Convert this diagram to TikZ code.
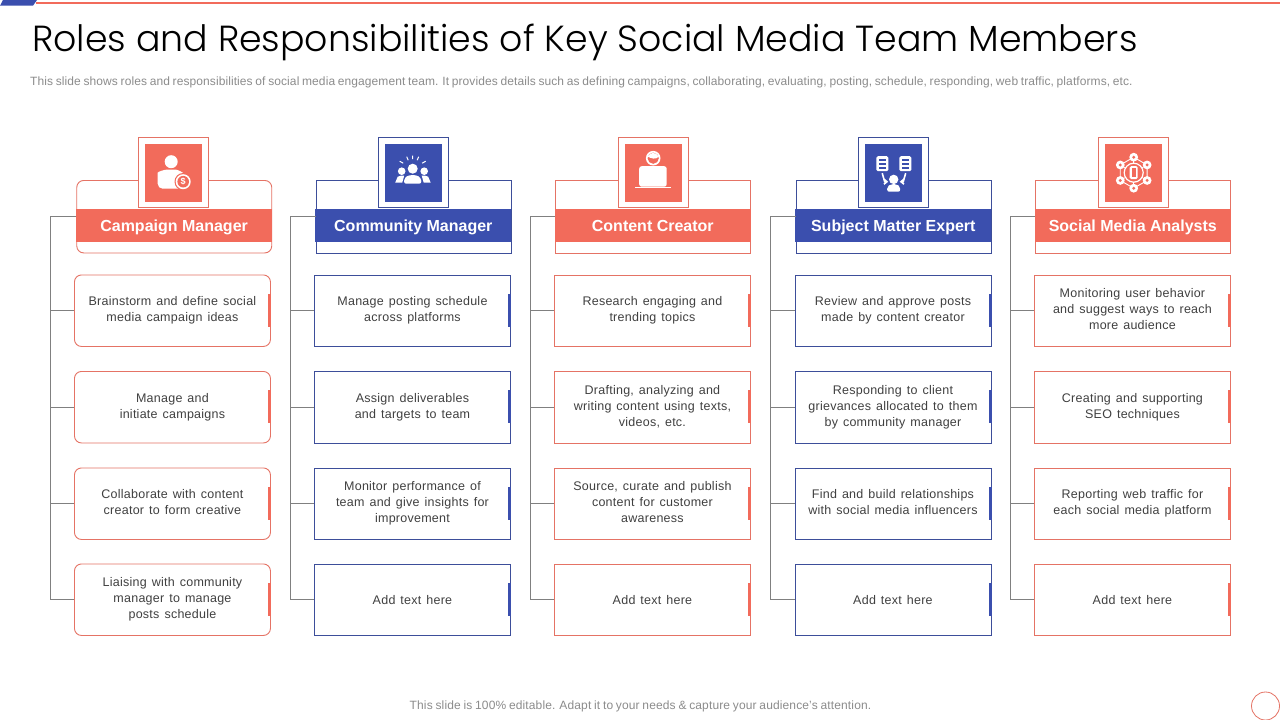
\documentclass[tikz,border=0pt]{standalone}
\usepackage{fontspec}
\usetikzlibrary{arrows.meta}
\setmainfont{Liberation Sans}
\newfontfamily\titlef{Poppins Light}
\newfontfamily\bodyf[LetterSpace=2.0,WordSpace=1.35]{Liberation Sans}
\newfontfamily\subf[LetterSpace=0.73,WordSpace=0.8]{Liberation Sans}
\newfontfamily\footf[LetterSpace=1.15,WordSpace=0.8]{Liberation Sans}
\definecolor{redc}{HTML}{F26B5B}
\definecolor{redl}{HTML}{E57365}
\definecolor{bluec}{HTML}{3B4FAE}
\definecolor{bluel}{HTML}{3D4E9A}
\definecolor{txt}{HTML}{404040}
\definecolor{greyl}{HTML}{808080}
\definecolor{subt}{HTML}{8C8C8C}
\tikzset{
  x=1pt,y=-1pt,
  roundc/.style={rounded corners=7pt},
  sharpc/.style={sharp corners},
  itembox/.style={draw,line width=0.9pt,anchor=north west,minimum width=196pt,minimum height=71.5pt,inner sep=0pt,align=center,text=txt,font=\bodyf\fontsize{12.5}{16}\selectfont,execute at begin node={\rule{0pt}{11.5pt}},execute at end node={\rule[-2.5pt]{0pt}{2.5pt}}},
  headbox/.style={draw,line width=0.9pt,anchor=north west,minimum width=195pt,minimum height=72.5pt,inner sep=0pt},
  bandbox/.style={anchor=north west,minimum width=196pt,minimum height=33pt,inner sep=0pt,text=white,text height=12pt,text depth=0pt,font=\bfseries\fontsize{16}{19}\selectfont},
  framebox/.style={draw,line width=0.9pt,fill=white,anchor=north west,minimum width=70pt,minimum height=70pt,inner sep=0pt},
  iconbox/.style={anchor=north west,minimum width=57pt,minimum height=58pt,inner sep=0pt},
  tickbox/.style={anchor=north west,minimum width=3pt,minimum height=33pt,inner sep=0pt},
  trunk/.style={draw=greyl,line width=0.8pt},
}
\newcommand{\teamcol}[9]{%
  \def\cid{#1}\def\cx{#2}\def\cfill{#3}\def\colline{#4}\def\ccorner{#5}%
  \node[headbox,draw=\colline,\ccorner] (\cid head) at (\cx+76+#9,180) {};
  \node[bandbox,fill=\cfill] (\cid band) at (\cx+75.6+#9,209) {#6};
  \node[framebox,draw=\colline] (\cid frame) at (\cx+138,137) {};
  \node[iconbox,fill=\cfill] (\cid icon) at (\cx+145,143.5) {};
  \coordinate (\cid top) at (\cx+50.5,216);
  #7
  \begin{scope}[shift={(\cid icon.center)}]#8\end{scope}
}
\def\idelta{0}
\newcommand{\teamitem}[3]{%
  \node[itembox,draw=\colline,\ccorner] (\cid i#1) at (\cx+74+\idelta,#2) {#3};
  \node[tickbox,fill=\cfill] (\cid t#1) at (\cx+268+\idelta,#2+19) {};
  \draw[trunk] (\cid top |- \cid i#1.west) -- (\cid i#1.west);
}
\begin{document}
\begin{tikzpicture}
\useasboundingbox (0,0) rectangle (1280,720);
\fill[white] (0,0) rectangle (1280,720);
\coordinate (barl) at (36,2.7);
\coordinate (barr) at (1280,2.7);
\draw[redc,line width=1.6pt] (barl) -- (barr);
\fill[bluec] (3,0) -- (37,0) -- (33,5.7) -- (0,5.7) -- cycle;
\node[anchor=base west,inner sep=0pt,text=black,font=\titlef\fontsize{36.3}{42}\selectfont] (title) at (32,51) {Roles and Responsibilities of Key Social Media Team Members};
\node[anchor=west,inner sep=0pt,text=subt,font=\subf\fontsize{12}{14}\selectfont] (sub) at (30,82) {This slide shows roles and responsibilities of social media engagement team. It provides details such as defining campaigns, collaborating, evaluating, posting, schedule, responding, web traffic, platforms, etc.};
\node[inner sep=0pt,text=subt,font=\footf\fontsize{12}{14}\selectfont] (foot) at (640.5,706) {This slide is 100\% editable. Adapt it to your needs \& capture your audience’s attention.};
\node[circle,draw=redl,line width=0.8pt,minimum size=28pt,inner sep=0pt] (badge) at (1265.5,706) {};

\teamcol{a}{0}{redc}{redl}{roundc}{Campaign Manager}{%
  \teamitem{1}{274.5}{Brainstorm and define social\\media campaign ideas}
  \teamitem{2}{371}{Manage and\\initiate campaigns}
  \teamitem{3}{467.5}{Collaborate with content\\creator to form creative}
  \teamitem{4}{563.5}{Liaising with community\\manager to manage\\posts schedule}
  \draw[trunk] (ahead.west |- atop) -- (atop) -- (atop |- ai4.west);
}{%
  \fill[white] (-2.5,-11) circle (6.5);
  \fill[white,rounded corners=5pt] (-16,16) -- (-16,5) .. controls (-16,-1) and (-9,-3) .. (-2.5,-3) .. controls (4,-3) and (10,0) .. (10,6) -- (10,16) -- cycle;
  \fill[redc] (9.5,9) circle (8.7);
  \fill[white] (9.5,9) circle (7.5);
  \fill[redc] (9.5,9) circle (5.8);
  \node[inner sep=0pt,text=white,font=\bfseries\fontsize{9}{9}\selectfont] (adollar) at (9.5,9) {\$};
}{0.3}
\teamcol{b}{240}{bluec}{bluel}{sharpc}{Community Manager}{%
  \teamitem{1}{274.5}{Manage posting schedule\\across platforms}
  \teamitem{2}{371}{Assign deliverables\\and targets to team}
  \teamitem{3}{467.5}{Monitor performance of\\team and give insights for\\improvement}
  \teamitem{4}{563.5}{Add text here}
  \draw[trunk] (bhead.west |- btop) -- (btop) -- (btop |- bi4.west);
}{%
  \fill[white] (-1,-4) circle (5);
  \fill[white] (-12,-1.5) circle (3.8);
  \fill[white] (10.5,-1.5) circle (3.8);
  \fill[white,rounded corners=2.5pt] (-10,11) -- (-9,5) -- (-5,2.5) -- (3,2.5) -- (7,5) -- (8,11) -- cycle;
  \fill[white] (-18.5,10) -- (-16,4) -- (-13,3) -- (-9.5,3) -- (-11.5,10) -- cycle;
  \fill[white] (17,10) -- (14.5,4) -- (11.5,3) -- (8,3) -- (10,10) -- cycle;
  \draw[white,line width=1pt] (-1,-17) -- (-1,-13.5) (-7,-16) -- (-5.5,-12.5) (5,-16) -- (3.5,-12.5) (-14,-11.5) -- (-10.5,-9.5) (12,-11.5) -- (8.5,-9.5);
}{-0.5}
\teamcol{c}{480}{redc}{redl}{sharpc}{Content Creator}{%
  \teamitem{1}{274.5}{Research engaging and\\trending topics}
  \teamitem{2}{371}{Drafting, analyzing and\\writing content using texts,\\videos, etc.}
  \teamitem{3}{467.5}{Source, curate and publish\\content for customer\\awareness}
  \teamitem{4}{563.5}{Add text here}
  \draw[trunk] (chead.west |- ctop) -- (ctop) -- (ctop |- ci4.west);
}{%
  \fill[white] (-0.5,-14.5) circle (7.3);
  \fill[redc] (-0.5,-14.5) circle (5.6);
  \fill[white] (-6,-16) .. controls (-4,-21) and (3,-21) .. (5,-16) .. controls (2,-13) and (-2,-14) .. cycle;
  \fill[white,rounded corners=2.5pt] (-14.5,14) -- (-14.5,-6.5) -- (13,-6.5) -- (13,14) -- cycle;
  \draw[white,line width=0.8pt] (-18.5,14.5) -- (17,14.5);
}{-1}
\def\idelta{0.5}
\teamcol{d}{720}{bluec}{bluel}{sharpc}{Subject Matter Expert}{%
  \teamitem{1}{274.5}{Review and approve posts\\made by content creator}
  \teamitem{2}{371}{Responding to client\\grievances allocated to them\\by community manager}
  \teamitem{3}{467.5}{Find and build relationships\\with social media influencers}
  \teamitem{4}{563.5}{Add text here}
  \draw[trunk] (dhead.west |- dtop) -- (dtop) -- (dtop |- di4.west);
}{%
  \foreach \sx in {-11.3,11.7}{
    \fill[white,rounded corners=1.5pt] (\sx-6,-16.5) rectangle (\sx+6,-1.5);
    \foreach \sy in {-13,-9,-5}{\fill[bluec] (\sx-3.5,\sy-1) rectangle (\sx+3.5,\sy+1.2);}
  }
  \fill[white] (0,6.7) circle (4.7);
  \fill[white,rounded corners=2pt] (-6.5,19) -- (-6.5,14) -- (-3,11.5) -- (3,11.5) -- (6.5,14) -- (6.5,19) -- cycle;
  \draw[white,line width=1.6pt,-{Straight Barb[length=3pt,width=5pt]}] (-11.5,0.5) -- (-9,9) -- (-5.5,9);
  \draw[white,line width=1.6pt,-{Straight Barb[length=3pt,width=5pt]}] (12,0.5) -- (9.5,9) -- (6,9);
}{-0.5}
\def\idelta{0}
\teamcol{e}{960}{redc}{redl}{sharpc}{Social Media Analysts}{%
  \teamitem{1}{274.5}{Monitoring user behavior\\and suggest ways to reach\\more audience}
  \teamitem{2}{371}{Creating and supporting\\SEO techniques}
  \teamitem{3}{467.5}{Reporting web traffic for\\each social media platform}
  \teamitem{4}{563.5}{Add text here}
  \draw[trunk] (ehead.west |- etop) -- (etop) -- (etop |- ei4.west);
}{%
  \draw[white,line width=0.9pt] (90:15.5) -- (30:15.5) -- (-30:15.5) -- (-90:15.5) -- (-150:15.5) -- (150:15.5) -- cycle;
  \draw[white,line width=1.2pt] (0,0) circle (9.5);
  \foreach \a in {30,90,150,210,270,330}{
    \fill[white] (\a:15.5) circle (4.4);
    \fill[redc] (\a:15.5) circle (1.6);
    \draw[white,line width=0.7pt] (\a:9.5) -- (\a:12);
  }
  \fill[white,rounded corners=1.5pt] (-4,-6.5) rectangle (4,6.5);
  \fill[redc] (-2.2,-4.5) rectangle (2.2,4.5);
}{-1}
\end{tikzpicture}
\end{document}
